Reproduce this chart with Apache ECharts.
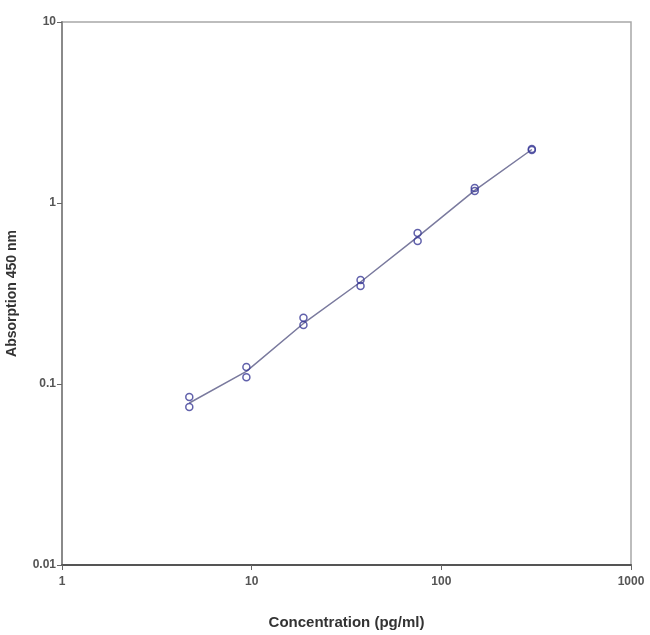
<!DOCTYPE html>
<html><head><meta charset="utf-8">
<script src="https://cdn.jsdelivr.net/npm/echarts@6/dist/echarts.min.js"></script>
<style>html,body{margin:0;padding:0;background:#fff}#c{width:650px;height:635px}</style>
</head><body><div id="c"></div>
<script>
const concentrations = [4.69, 9.38, 18.75, 37.5, 75, 150, 300];
const replicateA = [0.0847, 0.124, 0.232, 0.376, 0.682, 1.21, 1.99];
const replicateB = [0.0747, 0.109, 0.212, 0.348, 0.617, 1.165, 1.96];
const fitCurve = [0.0785, 0.1175, 0.216, 0.366, 0.650, 1.175, 1.975];
const xTickLabels = {1: '1', 10: '10', 100: '100', 1000: '1000'};
const yTickLabels = {0.01: '0.01', 0.1: '0.1', 1: '1', 10: '10'};

const pts = [];
concentrations.forEach((c, i) => { pts.push([c, replicateA[i]]); pts.push([c, replicateB[i]]); });
const line = concentrations.map((c, i) => [c, fitCurve[i]]);

function lbl(map) {
  return v => { for (const k in map) { if (Math.abs(Math.log10(v) - Math.log10(+k)) < 1e-6) return map[k]; } return ''; };
}

const chart = echarts.init(document.getElementById('c'), null, {renderer: 'canvas'});
chart.setOption({
  animation: false,
  grid: {left: 62, top: 22, right: 19, bottom: 70, containLabel: false, outerBoundsMode: 'none',
         show: true, borderColor: '#a8a8a8', borderWidth: 1.5},
  xAxis: {
    type: 'log', logBase: 10, min: 1, max: 1000,
    name: 'Concentration (pg/ml)', nameLocation: 'middle', nameGap: 50,
    nameTextStyle: {fontFamily: 'Liberation Sans', fontWeight: 'bold', fontSize: 15, color: '#333'},
    axisLine: {lineStyle: {color: '#555', width: 2}},
    axisTick: {show: true, length: 5, lineStyle: {color: '#666'}},
    minorTick: {show: false},
    splitLine: {show: false},
    axisLabel: {fontFamily: 'Liberation Sans', fontWeight: 'bold', fontSize: 12, color: '#555', margin: 11, formatter: lbl(xTickLabels)}
  },
  yAxis: {
    type: 'log', logBase: 10, min: 0.01, max: 10,
    name: 'Absorption 450 nm', nameLocation: 'middle', nameGap: 43, nameRotate: 90,
    nameTextStyle: {fontFamily: 'Liberation Sans', fontWeight: 'bold', fontSize: 14, color: '#333'},
    axisLine: {lineStyle: {color: '#8a8a8a', width: 2}},
    axisTick: {show: true, length: 5, lineStyle: {color: '#666'}},
    splitLine: {show: false},
    axisLabel: {fontFamily: 'Liberation Sans', fontWeight: 'bold', fontSize: 12, color: '#555', margin: 6, formatter: lbl(yTickLabels)}
  },
  series: [
    {type: 'line', data: line, smooth: false, symbol: 'none', lineStyle: {color: '#7a7a9e', width: 1.5, join: 'round'}, z: 2},
    {type: 'scatter', data: pts, symbol: 'circle', symbolSize: 7,
     itemStyle: {color: 'rgba(255,255,255,0)', borderColor: '#3a3a96', borderWidth: 1.5}, z: 3}
  ]
});
</script></body></html>
